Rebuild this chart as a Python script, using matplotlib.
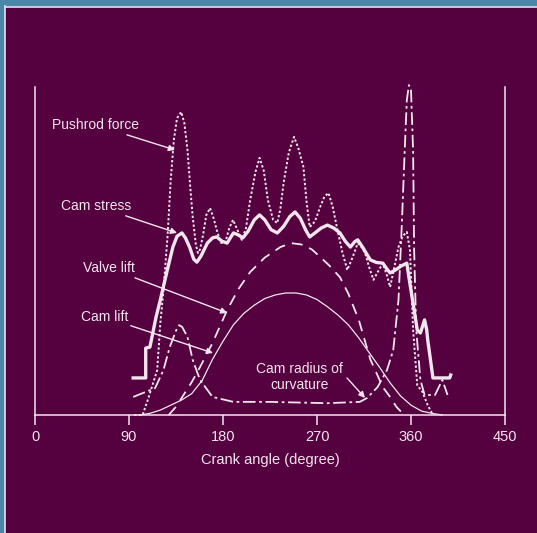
import matplotlib
matplotlib.use("Agg")
import matplotlib.pyplot as plt
from matplotlib.patches import Rectangle

plt.rcParams['font.family'] = ['Liberation Sans Narrow', 'Liberation Sans', 'DejaVu Sans']

BG = "#55003f"
FG = "#f2e6ee"
FRAME = "#4a86a8"

# values (crank angle in degree, relative magnitude)
cam_lift_x = [100, 110, 120, 130, 140, 150, 160, 170, 180, 190, 200, 210, 220, 230,
              240, 250, 260, 270, 280, 290, 300, 310, 320, 330, 340, 350, 360, 370,
              380, 390]
cam_lift_y = [0, 0.5, 1.5, 3, 4.5, 6.5, 10.5, 17, 22.5, 27.5, 31, 33.5, 35.5, 36.6,
              37.2, 37.2, 36.6, 35.2, 33, 30.5, 27.5, 23.5, 19, 14.5, 9.8, 5.8, 3, 1.2,
              0.5, 0]

valve_lift_x = [128, 135, 140, 150, 158, 170, 184, 195, 206, 220, 235, 245, 255, 265,
                273, 282, 292, 300, 310, 321, 333, 340, 346, 352]
valve_lift_y = [0, 2.5, 5, 10, 14.6, 22, 32, 38.5, 43.6, 48, 51.2, 52.4, 52, 50.5,
                48.2, 45.5, 42, 37, 29, 17, 8.5, 5.5, 2.5, 0.5]

cam_stress_x = [94, 106, 106, 110, 112, 116, 120, 126, 132, 136, 140.7, 144, 148, 152,
                155, 159, 165, 170, 174, 179, 184, 187, 190, 194, 199, 204, 210, 215,
                220, 226, 232, 238, 244, 249, 254, 259, 263, 268, 274, 280, 286, 292,
                297, 302, 306, 309, 314, 321, 327, 333, 337, 340, 345, 351, 356, 358,
                361, 364, 366, 369, 371, 373, 375, 376, 379, 381, 397, 398]
cam_stress_y = [11.3, 11.3, 20.4, 20.7, 23.8, 30, 35.1, 43.3, 51.2, 54.5, 55.5, 54,
                51.2, 47.5, 46.6, 48.5, 52.4, 54, 54.3, 53, 52.4, 54, 55.5, 55, 54, 56,
                59.5, 61, 59.5, 56.5, 55.5, 57.5, 60.5, 61.9, 60, 56.5, 54.3, 55.5, 57,
                57.9, 57, 55.5, 53, 51.2, 52.8, 53.4, 51, 47.3, 46.5, 46.3, 44.5, 43.3,
                44.2, 45.5, 46.3, 42, 36, 30, 25.9, 25, 27, 29, 26, 22.9, 16, 11.3,
                11.3, 12.2]

pushrod_x = [95, 103, 108, 117, 120, 123, 127, 130, 133, 136, 140, 143, 146, 149, 151,
             154, 156, 158, 161, 164, 167.6, 171, 174, 178, 182, 186, 189.6, 193, 198,
             202, 206, 211, 215, 219, 223, 228, 232, 235, 238, 243, 248, 252, 257,
             260, 263, 268, 273, 277, 281, 285, 289, 294, 299, 304, 309, 312, 316,
             320, 324, 328, 333, 337, 340, 344, 348, 352, 356, 359, 362, 366, 371,
             376, 381]
pushrod_y = [0, 0, 4.6, 13.7, 28, 38, 55, 72, 84, 90.5, 92.4, 89, 80.8, 68, 60.4, 52,
             49.4, 50.5, 55, 61, 63.1, 60, 56.4, 52.5, 52.4, 57, 59.5, 57, 53.4, 57,
             65.5, 74, 78.4, 74.5, 65.5, 59.5, 58.5, 63, 70.7, 80, 84.8, 81.5, 75.6,
             65, 57.3, 59, 63.4, 66.5, 67.7, 63.5, 57.3, 50, 44.2, 48, 52.4, 51.5,
             49.4, 45, 41.2, 43.5, 46.3, 42.5, 39, 45, 51.2, 54.5, 55.8, 50.3, 26,
             9.1, 7, 3, 0]

radius_x = [94, 115, 123, 129, 136, 138, 141, 146, 151, 158, 170, 190, 225, 280, 311,
            318, 328, 337, 343, 348, 351, 354, 356, 358, 360, 362, 363, 365, 369, 373,
            383, 390, 395]
radius_y = [5.5, 8.2, 13.7, 20.7, 26.5, 27.4, 26.8, 23.8, 16.8, 10.7, 5.5, 4.0, 4.0,
            3.6, 4.0, 5.2, 8.5, 13.7, 19.8, 35, 56.4, 80.8, 96, 100.6, 99, 80.8, 50.3,
            26, 10.7, 6.1, 6.1, 10.7, 6.1]

xticks = [0, 90, 180, 270, 360, 450]

fig = plt.figure(figsize=(5.37, 5.33), dpi=100, facecolor=BG)

# blue frame on the top and left edge, with a thin light line inside
fig.patches.append(Rectangle((0, 1 - 6 / 533), 1, 6 / 533, transform=fig.transFigure,
                             color=FRAME, zorder=0))
fig.patches.append(Rectangle((0, 0), 4 / 537, 1, transform=fig.transFigure,
                             color=FRAME, zorder=0))
fig.lines.append(plt.Line2D([4.8 / 537, 4.8 / 537], [0, 1 - 6 / 533], transform=fig.transFigure,
                            color="#e8dde6", lw=1.2))
fig.lines.append(plt.Line2D([4.8 / 537, 1], [1 - 6.8 / 533, 1 - 6.8 / 533], transform=fig.transFigure,
                            color="#e8dde6", lw=1.2))

ax = fig.add_axes([35 / 537, 118 / 533, 470 / 537, 328 / 533])
ax.set_facecolor(BG)
ax.set_xlim(0, 450)
ax.set_ylim(0, 100)

ax.plot(cam_lift_x, cam_lift_y, color=FG, lw=0.9, clip_on=False)
ax.plot(valve_lift_x, valve_lift_y, color=FG, lw=1.3, ls=(0, (6, 4)), clip_on=False)
ax.plot(pushrod_x, pushrod_y, color=FG, lw=1.4, ls=(0, (1.2, 1.1)), clip_on=False)
ax.plot(radius_x, radius_y, color=FG, lw=1.3, ls=(0, (7, 2, 1.5, 2)), clip_on=False)
ax.plot(cam_stress_x, cam_stress_y, color=FG, lw=2.4, solid_joinstyle="round",
        clip_on=False)

ax.spines["top"].set_visible(False)
for s in ["left", "right", "bottom"]:
    ax.spines[s].set_color(FG)
    ax.spines[s].set_linewidth(1.1)

ax.set_xticks(xticks)
ax.set_xticklabels([str(t) for t in xticks])
ax.set_yticks([])
ax.tick_params(axis="x", colors=FG, direction="out", length=7, width=1.1,
               labelsize=10.5, pad=4)
ax.set_xlabel("Crank angle (degree)", color=FG, fontsize=10.5, labelpad=6)

fs = 10
arrow = dict(arrowstyle="-|>", color=FG, lw=1.0, mutation_scale=9, shrinkA=0, shrinkB=0)
ax.annotate("Pushrod force", xy=(134, 80.8), xytext=(100, 88.4), color=FG,
            fontsize=fs, ha="right", va="center", arrowprops=arrow)
ax.annotate("Cam stress", xy=(136, 55.5), xytext=(92.5, 63.7), color=FG,
            fontsize=fs, ha="right", va="center", arrowprops=arrow)
ax.annotate("Valve lift", xy=(184, 31.1), xytext=(96, 44.8), color=FG,
            fontsize=fs, ha="right", va="center", arrowprops=arrow)
ax.annotate("Cam lift", xy=(170.4, 18.9), xytext=(89, 29.9), color=FG,
            fontsize=fs, ha="right", va="center", arrowprops=arrow)
ax.text(253, 11.6, "Cam radius of\ncurvature", color=FG, fontsize=fs,
        ha="center", va="center", linespacing=1.15)
ax.annotate("", xy=(316, 5.2), xytext=(298.7, 11.3), arrowprops=arrow)

fig.savefig("out.png", dpi=100, facecolor=BG)
